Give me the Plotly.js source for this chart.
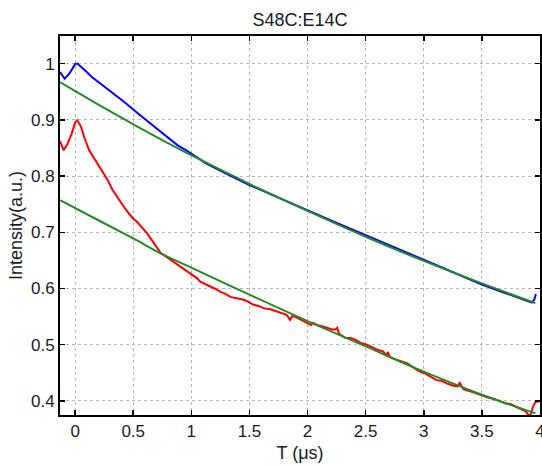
<!DOCTYPE html>
<html>
<head>
<meta charset="utf-8">
<script src="https://cdn.plot.ly/plotly-3.0.1.min.js"></script>
<style>html,body{margin:0;padding:0;background:#fff;}#chart{width:542px;height:466px;}</style>
</head>
<body>
<div id="chart"></div>
<script>
// Measured data (blue trace)
var blueT = [-0.13, -0.11, -0.09, -0.05, 0.0, 0.02, 0.06, 0.10, 0.15, 0.22, 0.30, 0.42, 0.56, 0.68, 0.79, 0.88, 0.96, 1.13, 1.36, 1.50, 1.70, 1.94, 2.20, 2.50, 2.77, 3.00, 3.25, 3.50, 3.70, 3.85, 3.90, 3.93, 3.95, 3.965];
var blueI = [0.985, 0.978, 0.973, 0.982, 0.999, 1.000, 0.993, 0.985, 0.975, 0.964, 0.950, 0.932, 0.908, 0.888, 0.870, 0.855, 0.845, 0.822, 0.798, 0.784, 0.766, 0.744, 0.721, 0.695, 0.671, 0.650, 0.628, 0.607, 0.592, 0.581, 0.576, 0.575, 0.580, 0.590];

// Measured data (red trace)
var redT = [-0.13, -0.10, -0.07, -0.03, 0.00, 0.02, 0.05, 0.08, 0.12, 0.19, 0.24, 0.28, 0.32, 0.36, 0.41, 0.46, 0.50, 0.53, 0.57, 0.62, 0.66, 0.70, 0.74, 0.78, 0.82, 0.86, 0.905, 0.93, 0.963, 0.99, 1.02, 1.05, 1.076, 1.12, 1.16, 1.20, 1.25, 1.29, 1.335, 1.39, 1.45, 1.49, 1.536, 1.58, 1.62, 1.68, 1.735, 1.78, 1.82, 1.85, 1.87, 1.90, 1.94, 1.97, 2.00, 2.03, 2.05, 2.08, 2.14, 2.17, 2.21, 2.24, 2.255, 2.27, 2.325, 2.37, 2.41, 2.46, 2.51, 2.55, 2.60, 2.65, 2.68, 2.69, 2.71, 2.77, 2.81, 2.855, 2.90, 2.94, 2.98, 3.01, 3.05, 3.11, 3.15, 3.20, 3.255, 3.29, 3.31, 3.34, 3.40, 3.45, 3.50, 3.55, 3.60, 3.65, 3.70, 3.75, 3.80, 3.85, 3.88, 3.90, 3.92, 3.94, 3.96, 3.99];
var redI = [0.862, 0.846, 0.855, 0.875, 0.895, 0.899, 0.888, 0.868, 0.846, 0.822, 0.806, 0.793, 0.776, 0.763, 0.748, 0.734, 0.724, 0.719, 0.710, 0.698, 0.686, 0.674, 0.662, 0.657, 0.651, 0.645, 0.639, 0.636, 0.630, 0.627, 0.621, 0.618, 0.612, 0.608, 0.603, 0.600, 0.594, 0.591, 0.585, 0.583, 0.580, 0.576, 0.571, 0.569, 0.565, 0.563, 0.559, 0.557, 0.553, 0.544, 0.551, 0.549, 0.545, 0.541, 0.538, 0.535, 0.539, 0.535, 0.532, 0.530, 0.527, 0.527, 0.530, 0.520, 0.512, 0.512, 0.509, 0.503, 0.500, 0.496, 0.491, 0.488, 0.480, 0.487, 0.478, 0.473, 0.470, 0.467, 0.461, 0.455, 0.451, 0.449, 0.444, 0.437, 0.436, 0.431, 0.427, 0.426, 0.432, 0.421, 0.417, 0.414, 0.410, 0.406, 0.404, 0.400, 0.396, 0.394, 0.389, 0.385, 0.381, 0.375, 0.376, 0.390, 0.398, 0.399];

// Fit lines (green)
var fitT = [-0.13, 0.25, 0.50, 0.75, 1.00, 1.50, 2.00, 2.50, 3.00, 3.50, 3.96];
var fitUpper = [0.967, 0.921, 0.892, 0.864, 0.837, 0.786, 0.738, 0.692, 0.649, 0.609, 0.574];
var fitLower = [0.757, 0.716, 0.689, 0.661, 0.637, 0.589, 0.542, 0.497, 0.452, 0.411, 0.378];

var xTicks = [0, 0.5, 1, 1.5, 2, 2.5, 3, 3.5, 4];
var yTicks = [0.4, 0.5, 0.6, 0.7, 0.8, 0.9, 1];

var FONT = 'Liberation Sans, Arial, sans-serif';
var green = '#238b23';
var traces = [
  {x: blueT, y: blueI, mode: 'lines', line: {color: '#0000ff', width: 2}, hoverinfo: 'skip'},
  {x: redT, y: redI, mode: 'lines', line: {color: '#ff0000', width: 2}, hoverinfo: 'skip'},
  {x: fitT, y: fitUpper, mode: 'lines', line: {color: green, width: 2, shape: 'spline'}, hoverinfo: 'skip'},
  {x: fitT, y: fitLower, mode: 'lines', line: {color: green, width: 2, shape: 'spline'}, hoverinfo: 'skip'}
];

var axisCommon = {
  showline: true, linecolor: '#000', linewidth: 2, mirror: 'ticks',
  ticks: 'inside', ticklen: 5, tickwidth: 1.5, tickcolor: '#000',
  showgrid: true, gridcolor: '#b8b8b8', griddash: 'dot', gridwidth: 1,
  zeroline: false, ticklabeloverflow: 'allow',
  tickfont: {family: FONT, size: 17, color: '#1a1a1a'}
};

var layout = {
  width: 542, height: 466,
  margin: {l: 60, r: 2, t: 36, b: 51},
  paper_bgcolor: '#fff', plot_bgcolor: '#fff',
  showlegend: false,
  title: {text: 'S48C:E14C', x: 0.5, xref: 'paper', y: 0.958, yref: 'container', yanchor: 'middle',
          font: {family: FONT, size: 18, color: '#1a1a1a'}},
  xaxis: Object.assign({}, axisCommon, {
    range: [-0.13, 4.0], tickvals: xTicks, ticktext: xTicks.map(String),
    title: {text: 'T (μs)', standoff: 6, font: {family: FONT, size: 18, color: '#1a1a1a'}}
  }),
  yaxis: Object.assign({}, axisCommon, {
    range: [0.375, 1.049], tickvals: yTicks, ticktext: yTicks.map(String),
    title: {text: 'Intensity(a.u.)', standoff: 4, font: {family: FONT, size: 18, color: '#1a1a1a'}}
  })
};

Plotly.newPlot('chart', traces, layout, {staticPlot: true, displayModeBar: false});
</script>
</body>
</html>
